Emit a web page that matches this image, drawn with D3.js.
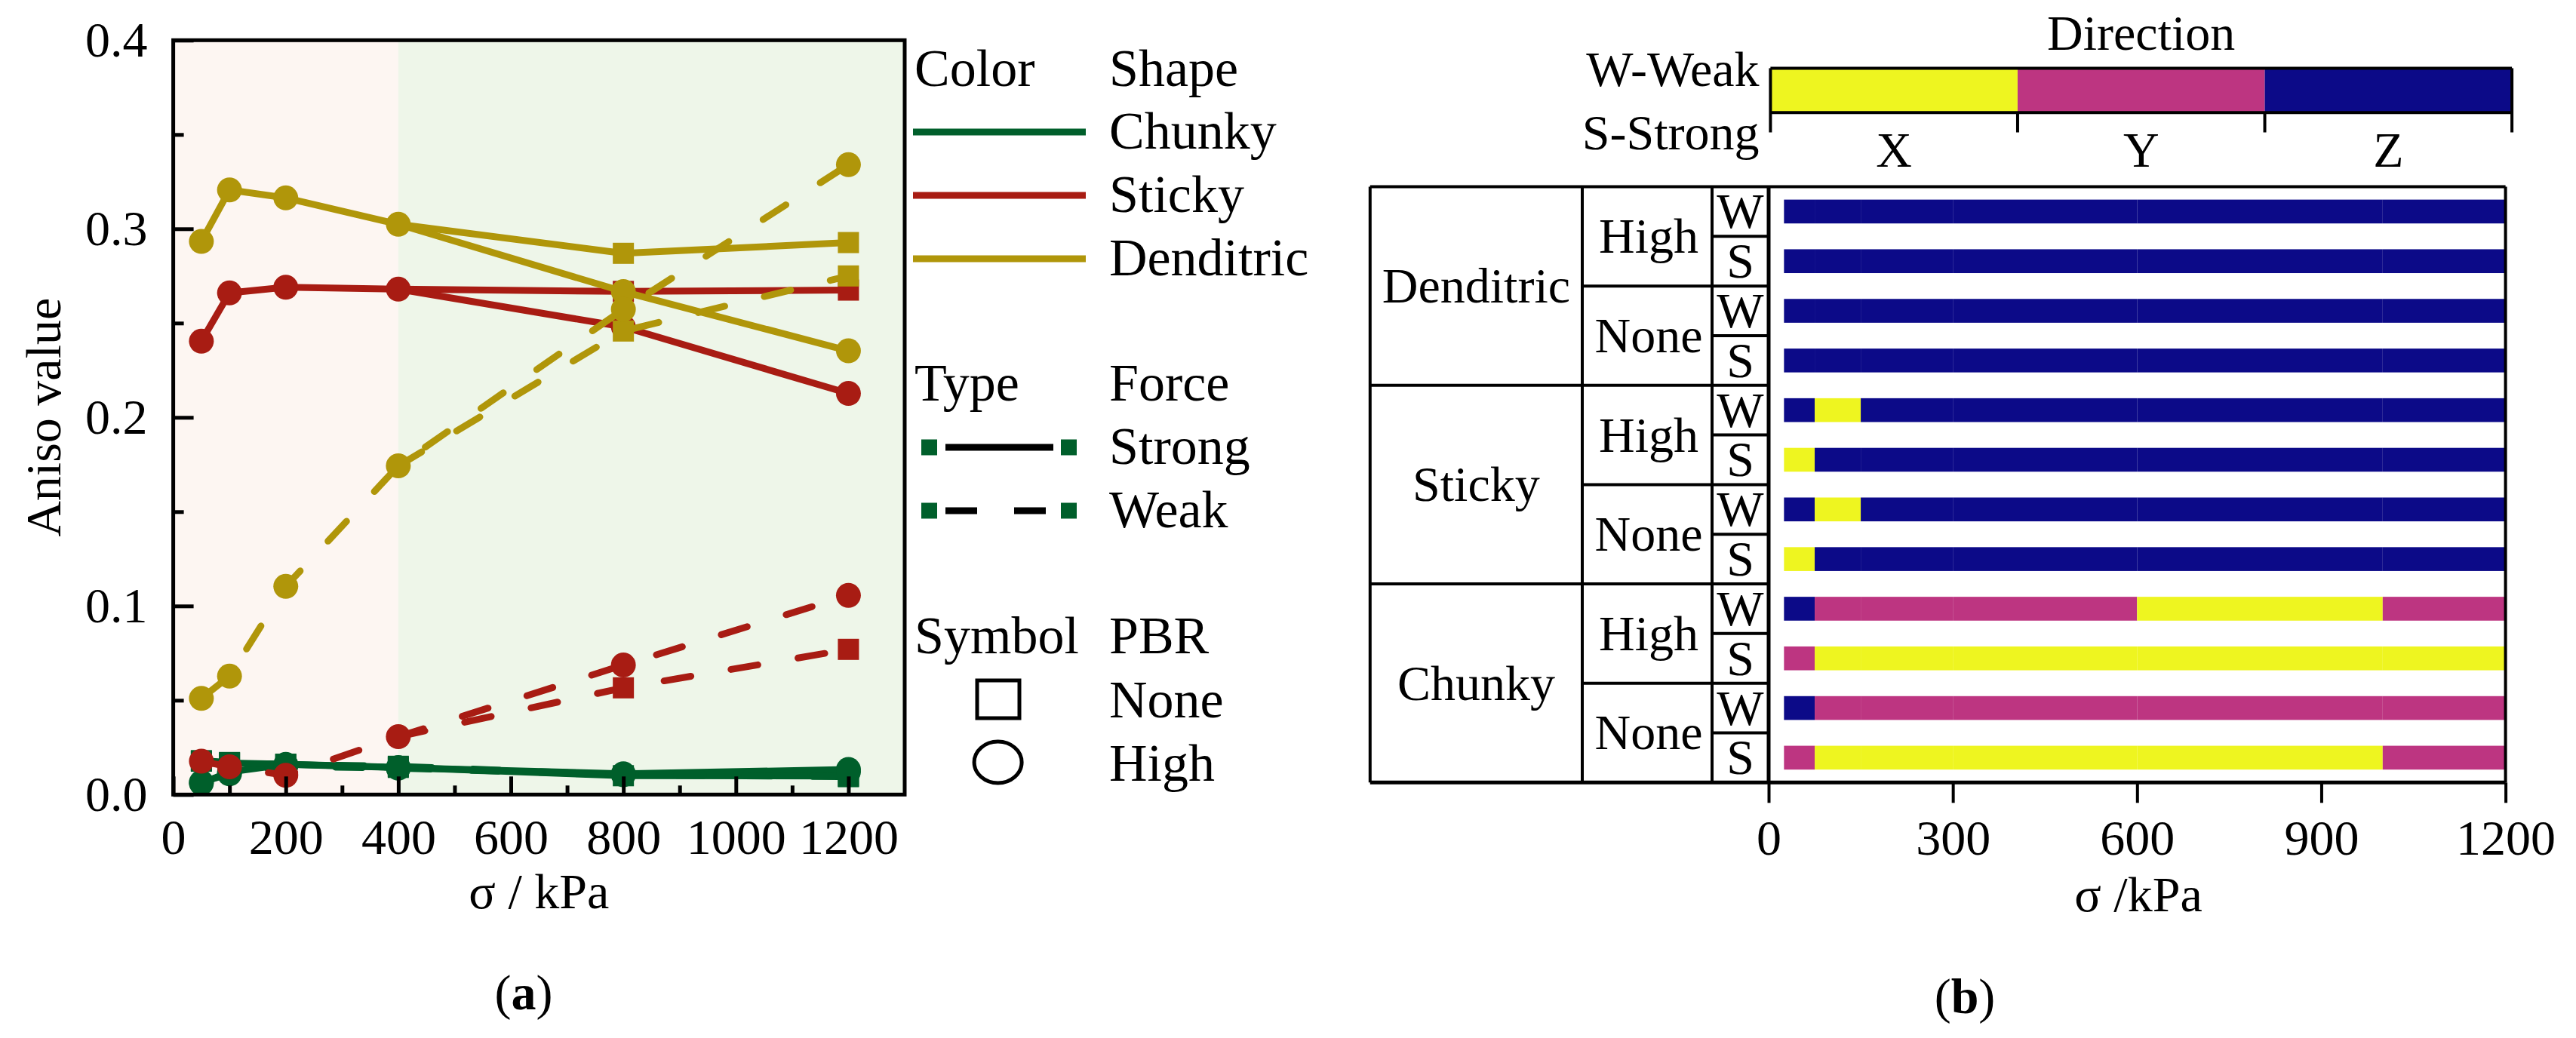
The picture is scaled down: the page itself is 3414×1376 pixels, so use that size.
<!DOCTYPE html>
<html>
<head>
<meta charset="utf-8">
<script src="https://cdnjs.cloudflare.com/ajax/libs/d3/7.8.5/d3.min.js"></script>
<style>
  body { margin: 0; background: #ffffff; }
  svg { display: block; }
  text { font-family: "Liberation Serif", "Times New Roman", serif; fill: #000; }
</style>
</head>
<body>
<svg id="chart" width="3414" height="1376" font-family="Liberation Serif, serif"></svg>
<script>
// ---------- data: panel (a) ----------
const sigma = [50, 100, 200, 400, 800, 1200];
const xTicksA = [0, 200, 400, 600, 800, 1000, 1200];
const yTicksA = [0.0, 0.1, 0.2, 0.3, 0.4];

const chunkyStrongHigh = [0.0060, 0.0120, 0.0160, 0.0143, 0.0110, 0.0133];
const chunkyStrongNone = [0.0177, 0.0167, 0.0161, 0.0144, 0.0100, 0.0098];
const chunkyWeakHigh = [0.0065, 0.0110, 0.0150, 0.0140, 0.0105, 0.0120];
const chunkyWeakNone = [0.0180, 0.0170, 0.0160, 0.0150, 0.0105, 0.0095];

const stickyStrongHigh = [0.2404, 0.2660, 0.2690, 0.2680, 0.2480, 0.2127];
const stickyStrongNone = [null, null, null, 0.2680, 0.2668, 0.2675];
const stickyWeakHigh = [0.0177, 0.0147, 0.0102, 0.0307, 0.0687, 0.1056];
const stickyWeakNone = [null, null, null, 0.0307, 0.0566, 0.0770];

const denditricStrongHigh = [0.2933, 0.3206, 0.3164, 0.3024, 0.2667, 0.2353];
const denditricStrongNone = [null, null, null, 0.3024, 0.2870, 0.2927];
const denditricWeakHigh = [0.0510, 0.0628, 0.1104, 0.1743, 0.2573, 0.3340];
const denditricWeakNone = [null, null, null, 0.1743, 0.2458, 0.2750];

const shapes = ["Chunky", "Sticky", "Denditric"];

// ---------- data: panel (b) ----------
const directions = ["X", "Y", "Z"];
const xTicksB = [0, 300, 600, 900, 1200];
const tableShapes = ["Denditric", "Sticky", "Chunky"];
const tablePbr = ["High", "None"];
const tableForce = ["W", "S"];
const binEdges = [25, 75, 150, 300, 600, 1000, 1200];
// rows per shape: High-W, High-S, None-W, None-S ; one entry per sigma point
const dirDenditric = [
  ["Z", "Z", "Z", "Z", "Z", "Z"],
  ["Z", "Z", "Z", "Z", "Z", "Z"],
  ["Z", "Z", "Z", "Z", "Z", "Z"],
  ["Z", "Z", "Z", "Z", "Z", "Z"]
];
const dirSticky = [
  ["Z", "X", "Z", "Z", "Z", "Z"],
  ["X", "Z", "Z", "Z", "Z", "Z"],
  ["Z", "X", "Z", "Z", "Z", "Z"],
  ["X", "Z", "Z", "Z", "Z", "Z"]
];
const dirChunky = [
  ["Z", "Y", "Y", "Y", "X", "Y"],
  ["Y", "X", "X", "X", "X", "X"],
  ["Z", "Y", "Y", "Y", "Y", "Y"],
  ["Y", "X", "X", "X", "X", "Y"]
];

// ---------- styles ----------
const shapeColor = { Chunky: "#005f2b", Sticky: "#a81c13", Denditric: "#b0960a" };
const dirColor = { X: "#eef520", Y: "#bd3581", Z: "#0c0a88" };
const FONT = 66;
const SERIF = "'Liberation Serif', 'Times New Roman', serif";

const svg = d3.select("#chart");

// #region panel a
function DrawPanelA() {
  const M = { left: 229.6, right: 1199, top: 53.3, bottom: 1053.3 };

  const x = d3.scaleLinear().domain([0, 1300]).range([M.left, M.right]);
  const y = d3.scaleLinear().domain([0, 0.4]).range([M.bottom, M.top]);

  const g = svg.append("g");

  // background zones
  g.append("rect")
    .attr("x", x(0)).attr("y", M.top)
    .attr("width", x(400) - x(0)).attr("height", M.bottom - M.top)
    .attr("fill", "#fdf6f2");
  g.append("rect")
    .attr("x", x(400)).attr("y", M.top)
    .attr("width", x(1300) - x(400)).attr("height", M.bottom - M.top)
    .attr("fill", "#eef6e9");

  // series table built from the named arrays
  const series = [
    { shape: "Chunky", weak: false, pbr: "High", values: chunkyStrongHigh },
    { shape: "Chunky", weak: false, pbr: "None", values: chunkyStrongNone },
    { shape: "Chunky", weak: true, pbr: "High", values: chunkyWeakHigh },
    { shape: "Chunky", weak: true, pbr: "None", values: chunkyWeakNone },
    { shape: "Sticky", weak: false, pbr: "None", values: stickyStrongNone },
    { shape: "Sticky", weak: false, pbr: "High", values: stickyStrongHigh },
    { shape: "Sticky", weak: true, pbr: "None", values: stickyWeakNone },
    { shape: "Sticky", weak: true, pbr: "High", values: stickyWeakHigh },
    { shape: "Denditric", weak: false, pbr: "None", values: denditricStrongNone },
    { shape: "Denditric", weak: false, pbr: "High", values: denditricStrongHigh },
    { shape: "Denditric", weak: true, pbr: "None", values: denditricWeakNone },
    { shape: "Denditric", weak: true, pbr: "High", values: denditricWeakHigh }
  ];

  const lineFunc = d3.line()
    .defined(d => d.v !== null)
    .x(d => x(d.s))
    .y(d => y(d.v));

  shapes.forEach(shape => {
    const group = series.filter(s => s.shape === shape);
    const color = shapeColor[shape];

    group.forEach(s => {
      const pts = sigma.map((s0, i) => ({ s: s0, v: s.values[i] }));
      g.append("path")
        .attr("d", lineFunc(pts))
        .attr("fill", "none")
        .attr("stroke", color)
        .attr("stroke-width", 9)
        .attr("stroke-linejoin", "round")
        .attr("stroke-linecap", s.weak ? "round" : "butt")
        .attr("stroke-dasharray", s.weak ? "36,54" : null);
    });

    // squares first, circles on top; a square sitting exactly under
    // its circle twin (same force type) is hidden in the original
    group.filter(s => s.pbr === "None").forEach(s => {
      const twin = group.find(o => o.pbr === "High" && o.weak === s.weak);
      const pts = sigma.map((s0, i) => ({ s: s0, v: s.values[i], hid: twin && twin.values[i] === s.values[i] }))
        .filter(d => d.v !== null && !d.hid);
      g.selectAll(null).data(pts).enter().append("rect")
        .attr("x", d => x(d.s) - 14).attr("y", d => y(d.v) - 14)
        .attr("width", 28).attr("height", 28)
        .attr("fill", color);
    });
    group.filter(s => s.pbr === "High").forEach(s => {
      const pts = sigma.map((s0, i) => ({ s: s0, v: s.values[i] })).filter(d => d.v !== null);
      g.selectAll(null).data(pts).enter().append("circle")
        .attr("cx", d => x(d.s)).attr("cy", d => y(d.v))
        .attr("r", 16.5)
        .attr("fill", color);
    });
  });

  // axes (ticks inward)
  const xAxis = g.append("g")
    .attr("transform", "translate(0," + M.bottom + ")")
    .call(d3.axisBottom(x).tickValues(xTicksA).tickSize(-24).tickFormat(d3.format("d")));
  const xMinor = g.append("g")
    .attr("transform", "translate(0," + M.bottom + ")")
    .call(d3.axisBottom(x).tickValues([100, 300, 500, 700, 900, 1100]).tickSize(-12).tickFormat(""));
  const yAxis = g.append("g")
    .attr("transform", "translate(" + M.left + ",0)")
    .call(d3.axisLeft(y).tickValues(yTicksA).tickSize(-27).tickPadding(34).tickFormat(d3.format(".1f")));
  const yMinor = g.append("g")
    .attr("transform", "translate(" + M.left + ",0)")
    .call(d3.axisLeft(y).tickValues([0.05, 0.15, 0.25, 0.35]).tickSize(-14).tickFormat(""));

  [xAxis, xMinor, yAxis, yMinor].forEach(a => {
    a.attr("font-family", SERIF);
    a.select(".domain").remove();
    a.selectAll("line").attr("stroke", "#000").attr("stroke-width", 5);
    a.selectAll("text").style("font-size", FONT + "px")
      .style("font-family", SERIF).attr("fill", "#000");
  });
  xAxis.selectAll("text").attr("y", 79).attr("dy", 0);

  // frame
  g.append("rect")
    .attr("x", M.left).attr("y", M.top)
    .attr("width", M.right - M.left).attr("height", M.bottom - M.top)
    .attr("fill", "none").attr("stroke", "#000").attr("stroke-width", 5);

  // axis titles
  g.append("text")
    .attr("transform", "translate(80," + ((M.top + M.bottom) / 2) + ") rotate(-90)")
    .attr("text-anchor", "middle")
    .style("font-size", FONT + "px")
    .text("Aniso value");
  g.append("text")
    .attr("x", (M.left + M.right) / 2).attr("y", 1204)
    .attr("text-anchor", "middle")
    .style("font-size", FONT + "px")
    .text("σ / kPa");

  const cap = g.append("text")
    .attr("x", 694).attr("y", 1338)
    .attr("text-anchor", "middle")
    .style("font-size", FONT + "px");
  cap.append("tspan").text("(");
  cap.append("tspan").style("font-weight", "bold").text("a");
  cap.append("tspan").text(")");

  DrawLegendA(g);
}

function DrawLegendA(g) {
  const LF = 70;
  const tx1 = 1212, tx2 = 1470;
  const label = (xx, yy, t) => g.append("text").attr("x", xx).attr("y", yy)
    .style("font-size", LF + "px").text(t);

  label(tx1, 114, "Color");
  label(tx2, 114, "Shape");
  shapes.forEach((shape, i) => {
    const ly = 175 + i * 84;
    g.append("line")
      .attr("x1", 1210).attr("x2", 1439).attr("y1", ly).attr("y2", ly)
      .attr("stroke", shapeColor[shape]).attr("stroke-width", 9);
    label(tx2, ly + 22, shape);
  });

  label(tx1, 531, "Type");
  label(tx2, 531, "Force");
  const green = shapeColor.Chunky;
  [{ name: "Strong", ly: 593, segs: [[1253, 1396]] },
   { name: "Weak", ly: 677, segs: [[1253, 1295], [1344, 1386]] }].forEach(f => {
    [1221, 1406].forEach(gx => {
      g.append("rect").attr("x", gx).attr("y", f.ly - 10.5)
        .attr("width", 21).attr("height", 21).attr("fill", green);
    });
    f.segs.forEach(sg => {
      g.append("line").attr("x1", sg[0]).attr("x2", sg[1])
        .attr("y1", f.ly).attr("y2", f.ly)
        .attr("stroke", "#000").attr("stroke-width", 9);
    });
    label(tx2, f.ly + 22, f.name);
  });

  label(tx1, 866, "Symbol");
  label(tx2, 866, "PBR");
  g.append("rect").attr("x", 1295).attr("y", 902).attr("width", 56).attr("height", 50)
    .attr("fill", "none").attr("stroke", "#000").attr("stroke-width", 5);
  label(tx2, 951, "None");
  g.append("ellipse").attr("cx", 1322.6).attr("cy", 1010.5).attr("rx", 31.5).attr("ry", 27.5)
    .attr("fill", "none").attr("stroke", "#000").attr("stroke-width", 5);
  label(tx2, 1035, "High");
}
// #endregion

// #region panel b
function DrawPanelB() {
  const g = svg.append("g");
  const T = { x0: 1815.8, x1: 2097, x2: 2269, x3: 2344, right: 3320.6, top: 247.5, bottom: 1037.3 };

  const xb = d3.scaleLinear().domain([0, 1200]).range([T.x3, T.right]);

  // rows
  const rows = [];
  const dirByShape = { Denditric: dirDenditric, Sticky: dirSticky, Chunky: dirChunky };
  tableShapes.forEach(sh => {
    let k = 0;
    tablePbr.forEach(p => {
      tableForce.forEach(f => {
        rows.push({ key: sh + "-" + p + "-" + f, shape: sh, pbr: p, force: f, dirs: dirByShape[sh][k] });
        k++;
      });
    });
  });

  const yb = d3.scaleBand()
    .domain(rows.map(r => r.key))
    .range([T.top, T.bottom])
    .paddingInner(0.52)
    .paddingOuter(0.26);
  const step = yb.step();

  // bars
  rows.forEach(r => {
    r.dirs.forEach((d, i) => {
      g.append("rect")
        .attr("x", xb(binEdges[i]))
        .attr("y", yb(r.key))
        .attr("width", xb(binEdges[i + 1]) - xb(binEdges[i]))
        .attr("height", yb.bandwidth())
        .attr("fill", dirColor[d]);
    });
  });

  // table grid
  const ln = (a, b, c, d, w) => g.append("line")
    .attr("x1", a).attr("y1", b).attr("x2", c).attr("y2", d)
    .attr("stroke", "#000").attr("stroke-width", w || 4);

  ln(T.x0, T.top, T.right, T.top);
  ln(T.x0, T.bottom, T.right, T.bottom, 5);
  ln(T.x0, T.top, T.x0, T.bottom);
  ln(T.x1, T.top, T.x1, T.bottom);
  ln(T.x2, T.top, T.x2, T.bottom);
  ln(T.x3, T.top, T.x3, T.bottom, 5);
  ln(T.right, T.top, T.right, T.bottom, 4);
  for (let i = 1; i < rows.length; i++) {
    const yy = T.top + i * step;
    if (i % 4 === 0) ln(T.x0, yy, T.x3, yy);
    else if (i % 2 === 0) ln(T.x1, yy, T.x3, yy);
    else ln(T.x2, yy, T.x3, yy);
  }

  const txt = (xx, yy, t, anchor) => g.append("text")
    .attr("x", xx).attr("y", yy)
    .attr("text-anchor", anchor || "middle")
    .style("font-size", FONT + "px")
    .text(t);

  // table labels
  tableShapes.forEach((sh, i) => {
    txt((T.x0 + T.x1) / 2, T.top + (i * 4 + 2) * step + 22, sh);
    tablePbr.forEach((p, j) => {
      txt((T.x1 + T.x2) / 2 + 2, T.top + (i * 4 + j * 2 + 1) * step + 22, p);
    });
  });
  rows.forEach((r, i) => {
    txt((T.x2 + T.x3) / 2, T.top + (i + 0.5) * step + 22, r.force);
  });

  // x axis
  const ax = g.append("g")
    .attr("font-family", SERIF)
    .attr("transform", "translate(0," + T.bottom + ")")
    .call(d3.axisBottom(xb).tickValues(xTicksB).tickSize(27).tickFormat(d3.format("d")));
  ax.select(".domain").remove();
  ax.selectAll("line").attr("stroke", "#000").attr("stroke-width", 4);
  ax.selectAll("text").attr("y", 96).attr("dy", 0)
    .style("font-size", FONT + "px")
    .style("font-family", SERIF).attr("fill", "#000");

  txt(2834, 1208, "σ /kPa");
  const cap = g.append("text")
    .attr("x", 2604).attr("y", 1343)
    .attr("text-anchor", "middle")
    .style("font-size", FONT + "px");
  cap.append("tspan").text("(");
  cap.append("tspan").style("font-weight", "bold").text("b");
  cap.append("tspan").text(")");

  // direction colour bar
  const cb = { x0: 2346.4, x1: 3329.1, top: 90.4, bottom: 149.2 };
  const xd = d3.scaleBand().domain(directions).range([cb.x0, cb.x1]);
  directions.forEach(d => {
    g.append("rect")
      .attr("x", xd(d)).attr("y", cb.top)
      .attr("width", xd.bandwidth()).attr("height", cb.bottom - cb.top)
      .attr("fill", dirColor[d]);
    txt(xd(d) + xd.bandwidth() / 2, 221, d);
  });
  ln(cb.x0, cb.top, cb.x1, cb.top);
  ln(cb.x0, cb.bottom, cb.x1, cb.bottom);
  directions.concat(["end"]).forEach((d, i) => {
    const xx = cb.x0 + i * xd.bandwidth();
    const yTop = (i === 0 || i === directions.length) ? cb.top : cb.bottom;
    ln(xx, yTop, xx, 175.5);
  });

  txt(2837.7, 66, "Direction");
  txt(2331.5, 114, "W-Weak", "end");
  txt(2331.5, 197.5, "S-Strong", "end");
}
// #endregion

DrawPanelA();
DrawPanelB();
</script>
</body>
</html>
